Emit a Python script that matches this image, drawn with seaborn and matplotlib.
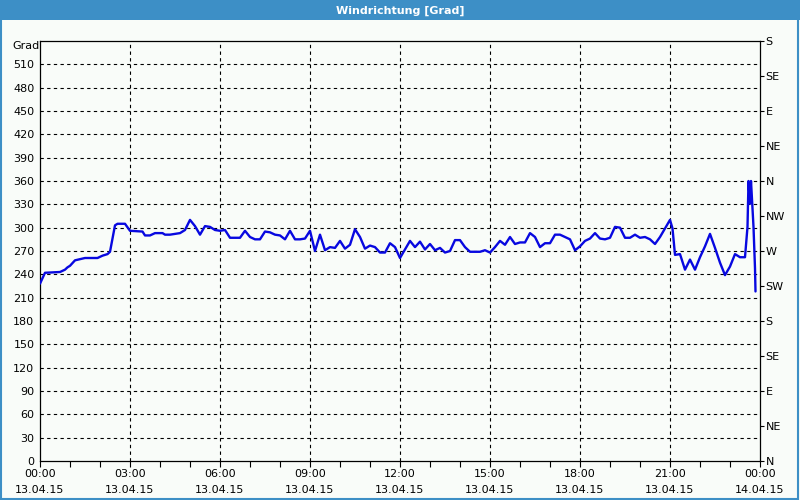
import matplotlib
matplotlib.use("Agg")
import matplotlib.pyplot as plt
import seaborn as sns
import pandas as pd
from matplotlib.patches import Rectangle
from matplotlib.ticker import MultipleLocator
from matplotlib.transforms import ScaledTranslation

# ---- data (minutes since 13.04.15 00:00, wind direction in degrees) ----
minutes = [0, 10, 40, 50, 55, 60, 70, 90, 115, 125, 135, 140, 150, 155, 170,
           180, 205, 210, 220, 230, 245, 250, 260, 280, 290, 300, 310, 320,
           330, 340, 350, 360, 370, 380, 400, 410, 420, 430, 440, 450, 460,
           470, 480, 490, 500, 510, 520, 530, 540, 550, 560, 570, 580, 590,
           600, 610, 620, 630, 640, 650, 660, 670, 680, 690, 700, 710, 720,
           730, 740, 750, 760, 770, 780, 790, 800, 810, 820, 830, 840, 850,
           860, 880, 890, 900, 910, 920, 930, 940, 950, 960, 970, 980, 990,
           1000, 1010, 1020, 1030, 1040, 1050, 1060, 1070, 1080, 1090, 1100,
           1110, 1120, 1130, 1140, 1150, 1160, 1170, 1180, 1190, 1200, 1210,
           1220, 1230, 1240, 1250, 1260, 1265, 1270, 1280, 1290, 1300, 1310,
           1320, 1330, 1340, 1350, 1360, 1370, 1380, 1390, 1400, 1410, 1415,
           1417, 1420, 1422, 1427, 1430, 1431]
direction = [228, 242, 243, 246, 249, 251, 258, 261, 261, 264, 266, 269, 303,
             305, 305, 296, 295, 290, 290, 293, 293, 291, 291, 293, 297, 310,
             302, 291, 302, 301, 297, 296, 297, 287, 287, 296, 288, 285, 285,
             295, 294, 291, 290, 285, 296, 285, 285, 286, 296, 270, 291, 271,
             275, 274, 283, 273, 278, 298, 288, 273, 277, 275, 268, 268, 280,
             275, 261, 272, 283, 275, 282, 272, 279, 271, 274, 268, 270, 284,
             284, 275, 269, 269, 271, 268, 275, 283, 278, 288, 279, 281, 281,
             293, 288, 275, 280, 280, 291, 291, 288, 285, 271, 276, 283, 286,
             293, 286, 285, 287, 301, 300, 287, 287, 291, 287, 288, 285, 279,
             288, 299, 310, 299, 265, 266, 246, 259, 246, 262, 276, 292, 274,
             255, 239, 250, 266, 262, 262, 301, 360, 331, 360, 301, 248, 218]

left_labels = [str(v) for v in range(0, 511, 30)] + ["Grad"]
compass = ["N", "NE", "E", "SE", "S", "SW", "W", "NW",
           "N", "NE", "E", "SE", "S"]
x_labels = ["00:00\n13.04.15", "03:00\n13.04.15", "06:00\n13.04.15",
            "09:00\n13.04.15", "12:00\n13.04.15", "15:00\n13.04.15",
            "18:00\n13.04.15", "21:00\n13.04.15", "00:00\n14.04.15"]
title = "Windrichtung [Grad]"

df = pd.DataFrame({"hours": [m / 60 for m in minutes], "deg": direction})

sns.set_style("white")
plt.rcParams["font.family"] = ["DejaVu Sans"]
plt.rcParams["text.color"] = "black"
plt.rcParams["xtick.color"] = "black"
plt.rcParams["ytick.color"] = "black"

bg = "#f9fcf9"
bar_col = "#3d8fc6"
fig = plt.figure(figsize=(8, 5), dpi=100, facecolor=bg)

# title bar and frame
fig.patches.append(Rectangle((0, 0.96), 1, 0.04, transform=fig.transFigure,
                             facecolor=bar_col, edgecolor="none", zorder=0))
fig.patches.append(Rectangle((0.001, 0.002), 0.997, 0.996, transform=fig.transFigure,
                             facecolor="none", edgecolor=bar_col, linewidth=1.5, zorder=5))
fig.text(0.5, 0.979, title, ha="center", va="center", color="white",
         fontsize=8, fontweight="bold")

ax = fig.add_axes([0.05, 0.078, 0.90, 0.840])
ax.set_facecolor(bg)
sns.lineplot(data=df, x="hours", y="deg", ax=ax, color="#0808e0",
             linewidth=1.7, zorder=3)

ax.set_xlim(0, 24)
ax.set_ylim(0, 540)
ax.set_xlabel("")
ax.set_ylabel("")

ax.set_xticks(range(0, 25, 3))
ax.set_xticklabels(x_labels, fontsize=8, linespacing=1.75)
ax.xaxis.set_minor_locator(MultipleLocator(1))
ax.tick_params(axis="x", which="both", direction="out", length=4, width=0.8,
               color="black", pad=2, bottom=True, labelcolor="black")
ax.set_yticks(range(0, 541, 30))
ax.set_yticklabels(left_labels, fontsize=8)
ax.tick_params(axis="y", length=0, pad=4, labelcolor="black")
# "Grad" sits slightly below the top edge
ax.get_yticklabels()[-1].set_transform(
    ax.get_yaxis_transform(which="tick1") + ScaledTranslation(0, -4 / 100, fig.dpi_scale_trans))

for v in range(30, 540, 30):
    ax.axhline(v, color="black", linestyle=(0, (3, 3)), linewidth=0.8, zorder=1)
for h in range(3, 24, 3):
    ax.axvline(h, color="black", linestyle=(0, (3, 3)), linewidth=0.8, zorder=1)

for s in ax.spines.values():
    s.set_visible(True)
    s.set_color("black")
    s.set_linewidth(0.9)

ax2 = ax.twinx()
ax2.set_ylim(0, 540)
ax2.set_yticks(range(0, 541, 45))
ax2.set_yticklabels(compass, fontsize=8)
ax2.tick_params(axis="y", direction="out", length=3, width=0.8, pad=1,
                color="black", labelcolor="black")
for s in ax2.spines.values():
    s.set_visible(False)

fig.savefig("out.png", dpi=100, facecolor=bg)
